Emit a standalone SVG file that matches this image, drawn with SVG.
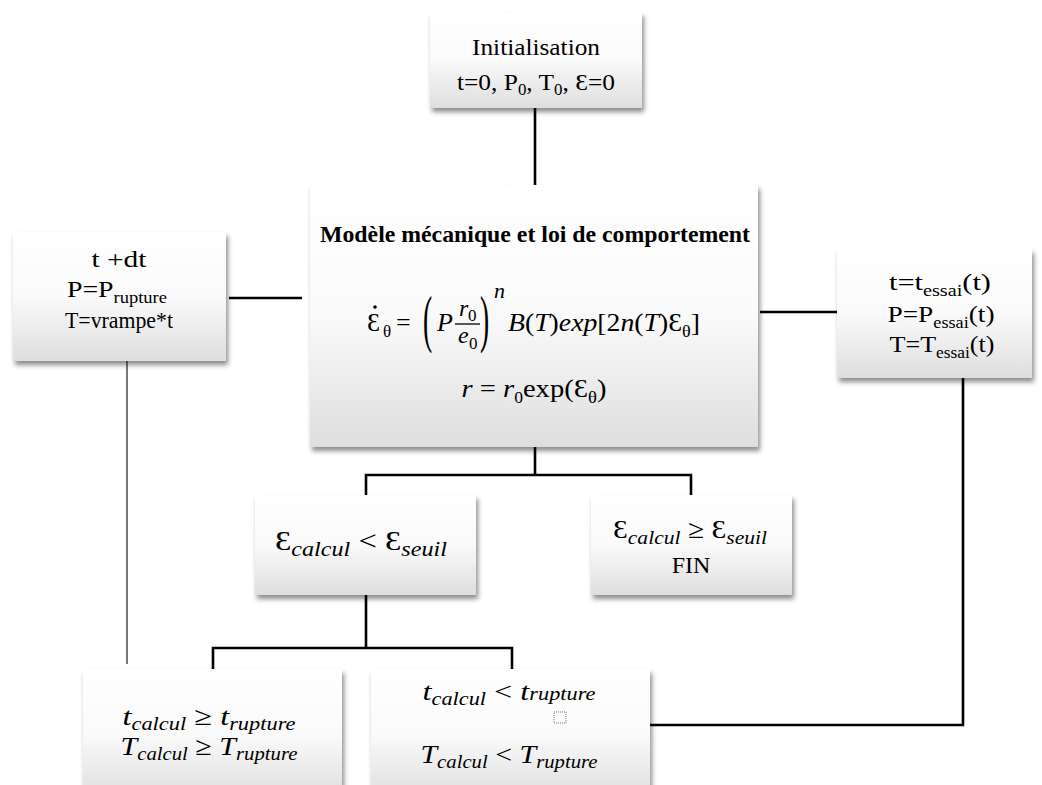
<svg xmlns="http://www.w3.org/2000/svg" width="1042" height="785" viewBox="0 0 1042 785">
<style>
.box{fill:url(#g);filter:url(#sh);}
.c{stroke:#000;stroke-width:2.6;fill:none;}
.cg{stroke:#555;stroke-width:1.6;fill:none;}
.t{font-family:"Liberation Serif","DejaVu Serif",serif;font-size:24px;fill:#000;}
.m{font-family:"Liberation Serif","DejaVu Serif",serif;font-size:26px;fill:#000;}
.i{font-style:italic;}
.s{font-size:16px;}
.b{font-weight:bold;}
</style>
<defs>
<linearGradient id="g" x1="0" y1="0" x2="0" y2="1">
<stop offset="0" stop-color="#ffffff"/>
<stop offset="0.5" stop-color="#fafafa"/>
<stop offset="1" stop-color="#dedede"/>
</linearGradient>
<filter id="sh" x="-10%" y="-10%" width="125%" height="130%">
<feDropShadow dx="2" dy="4" stdDeviation="2.5" flood-color="#000" flood-opacity="0.45"/>
</filter>
</defs>
<g id="connectors">
<line class="c" x1="535" y1="108" x2="535" y2="185"/>
<line class="c" x1="229" y1="298" x2="302" y2="298"/>
<line class="c" x1="760" y1="312" x2="837" y2="312"/>
<polyline class="c" points="366,495 366,475 691,475 691,495"/>
<line class="c" x1="535" y1="447" x2="535" y2="475"/>
<polyline class="c" points="213,669 213,648 512,648 512,669"/>
<line class="c" x1="366" y1="595" x2="366" y2="648"/>
<polyline class="c" points="963,378 963,725 650,725"/>
<line class="cg" x1="127" y1="361" x2="127" y2="664"/>
</g>
<g id="init">
<rect class="box" x="430" y="12" width="212" height="96"/>
<text class="t" x="536" y="55" text-anchor="middle" textLength="128" lengthAdjust="spacingAndGlyphs">Initialisation</text>
<text class="t" x="536" y="90" text-anchor="middle" textLength="158" lengthAdjust="spacingAndGlyphs">t=0, P<tspan class="s" dy="5">0</tspan><tspan dy="-5">, T</tspan><tspan class="s" dy="5">0</tspan><tspan dy="-5">, Ɛ=0</tspan></text>
</g>
<g id="modele">
<rect class="box" x="310" y="185" width="448" height="262"/>
<text class="t b" x="535" y="242" text-anchor="middle" textLength="430" lengthAdjust="spacingAndGlyphs">Modèle mécanique et loi de comportement</text>
<text class="m" x="367" y="331">Ɛ</text>
<circle cx="375" cy="307" r="1.8" fill="#000"/>
<text class="m" x="383" y="337" style="font-size:17px">θ</text>
<text class="m" x="396" y="331">=</text>
<text class="m" transform="translate(423,340) scale(1.1,2.5)" style="font-size:25px">(</text>
<text class="m i" x="437" y="331">P</text>
<text class="m i" x="459" y="316" style="font-size:24px">r</text>
<text class="m" x="468" y="321" style="font-size:17px">0</text>
<line x1="455" y1="324" x2="480" y2="324" stroke="#000" stroke-width="1.3"/>
<text class="m i" x="458" y="343" style="font-size:24px">e</text>
<text class="m" x="469" y="349" style="font-size:17px">0</text>
<text class="m" transform="translate(480,340) scale(1.1,2.5)" style="font-size:25px">)</text>
<text class="m i" x="494" y="298" style="font-size:22px">n</text>
<text class="m" x="508" y="331" textLength="192" lengthAdjust="spacingAndGlyphs"><tspan class="i">B</tspan>(<tspan class="i">T</tspan>)<tspan class="i">exp</tspan>[2<tspan class="i">n</tspan>(<tspan class="i">T</tspan>)Ɛ<tspan style="font-size:17px" dy="6">θ</tspan><tspan dy="-6">]</tspan></text>
<text class="m" x="534" y="397" text-anchor="middle" textLength="145" lengthAdjust="spacingAndGlyphs"><tspan class="i">r</tspan> = <tspan class="i">r</tspan><tspan class="s" dy="6">0</tspan><tspan dy="-6">exp(Ɛ</tspan><tspan style="font-size:17px" dy="6">θ</tspan><tspan dy="-6">)</tspan></text>
</g>
<g id="increment">
<rect class="box" x="13" y="232" width="213" height="129"/>
<text class="t" x="119" y="267" text-anchor="middle" textLength="55" lengthAdjust="spacingAndGlyphs">t +dt</text>
<text class="t" x="117" y="297" text-anchor="middle" textLength="100" lengthAdjust="spacingAndGlyphs">P=P<tspan class="s" dy="6">rupture</tspan></text>
<text class="t" x="119" y="328" text-anchor="middle" textLength="108" lengthAdjust="spacingAndGlyphs">T=vrampe*t</text>
</g>
<g id="essai">
<rect class="box" x="837" y="249" width="195" height="129"/>
<text class="t" x="940" y="290" text-anchor="middle" textLength="102" lengthAdjust="spacingAndGlyphs">t=t<tspan class="s" dy="6">essai</tspan><tspan dy="-6">(t)</tspan></text>
<text class="t" x="941" y="322" text-anchor="middle" textLength="107" lengthAdjust="spacingAndGlyphs">P=P<tspan class="s" dy="6">essai</tspan><tspan dy="-6">(t)</tspan></text>
<text class="t" x="942" y="352" text-anchor="middle" textLength="105" lengthAdjust="spacingAndGlyphs">T=T<tspan class="s" dy="6">essai</tspan><tspan dy="-6">(t)</tspan></text>
</g>
<g id="seuil-inf">
<rect class="box" x="255" y="495" width="221" height="100"/>
<text class="m" x="361" y="550" text-anchor="middle" style="font-size:27px" textLength="172" lengthAdjust="spacingAndGlyphs">Ɛ<tspan class="i" style="font-size:20px" dy="6">calcul</tspan><tspan dy="-6"> &lt; Ɛ</tspan><tspan class="i" style="font-size:20px" dy="6">seuil</tspan></text>
</g>
<g id="fin">
<rect class="box" x="591" y="495" width="201" height="100"/>
<text class="m" x="690" y="538" text-anchor="middle" textLength="154" lengthAdjust="spacingAndGlyphs">Ɛ<tspan class="i" style="font-size:19px" dy="6">calcul</tspan><tspan dy="-6"> ≥ Ɛ</tspan><tspan class="i" style="font-size:19px" dy="6">seuil</tspan></text>
<text class="t" x="691" y="573" text-anchor="middle">FIN</text>
</g>
<g id="rupture">
<rect class="box" x="83" y="669" width="259" height="130"/>
<text class="m" x="209" y="725" text-anchor="middle" textLength="173" lengthAdjust="spacingAndGlyphs"><tspan class="i">t</tspan><tspan class="i" style="font-size:18px" dy="5">calcul</tspan><tspan dy="-5"> ≥ </tspan><tspan class="i">t</tspan><tspan class="i" style="font-size:18px" dy="5">rupture</tspan></text>
<text class="m" x="209" y="755" text-anchor="middle" textLength="177" lengthAdjust="spacingAndGlyphs"><tspan class="i">T</tspan><tspan class="i" style="font-size:18px" dy="5">calcul</tspan><tspan dy="-5"> ≥ </tspan><tspan class="i">T</tspan><tspan class="i" style="font-size:18px" dy="5">rupture</tspan></text>
</g>
<g id="non-rupture">
<rect class="box" x="371" y="669" width="279" height="130"/>
<text class="m" x="509" y="700" text-anchor="middle" textLength="173" lengthAdjust="spacingAndGlyphs"><tspan class="i">t</tspan><tspan class="i" style="font-size:18px" dy="5">calcul</tspan><tspan dy="-5"> &lt; </tspan><tspan class="i">t</tspan><tspan class="i" style="font-size:18px">rupture</tspan></text>
<rect x="554" y="712" width="12" height="11" fill="none" stroke="#777" stroke-width="1" stroke-dasharray="1,1"/>
<text class="m" x="509" y="763" text-anchor="middle" textLength="177" lengthAdjust="spacingAndGlyphs"><tspan class="i">T</tspan><tspan class="i" style="font-size:18px" dy="5">calcul</tspan><tspan dy="-5"> &lt; </tspan><tspan class="i">T</tspan><tspan class="i" style="font-size:18px" dy="5">rupture</tspan></text>
</g>
</svg>
